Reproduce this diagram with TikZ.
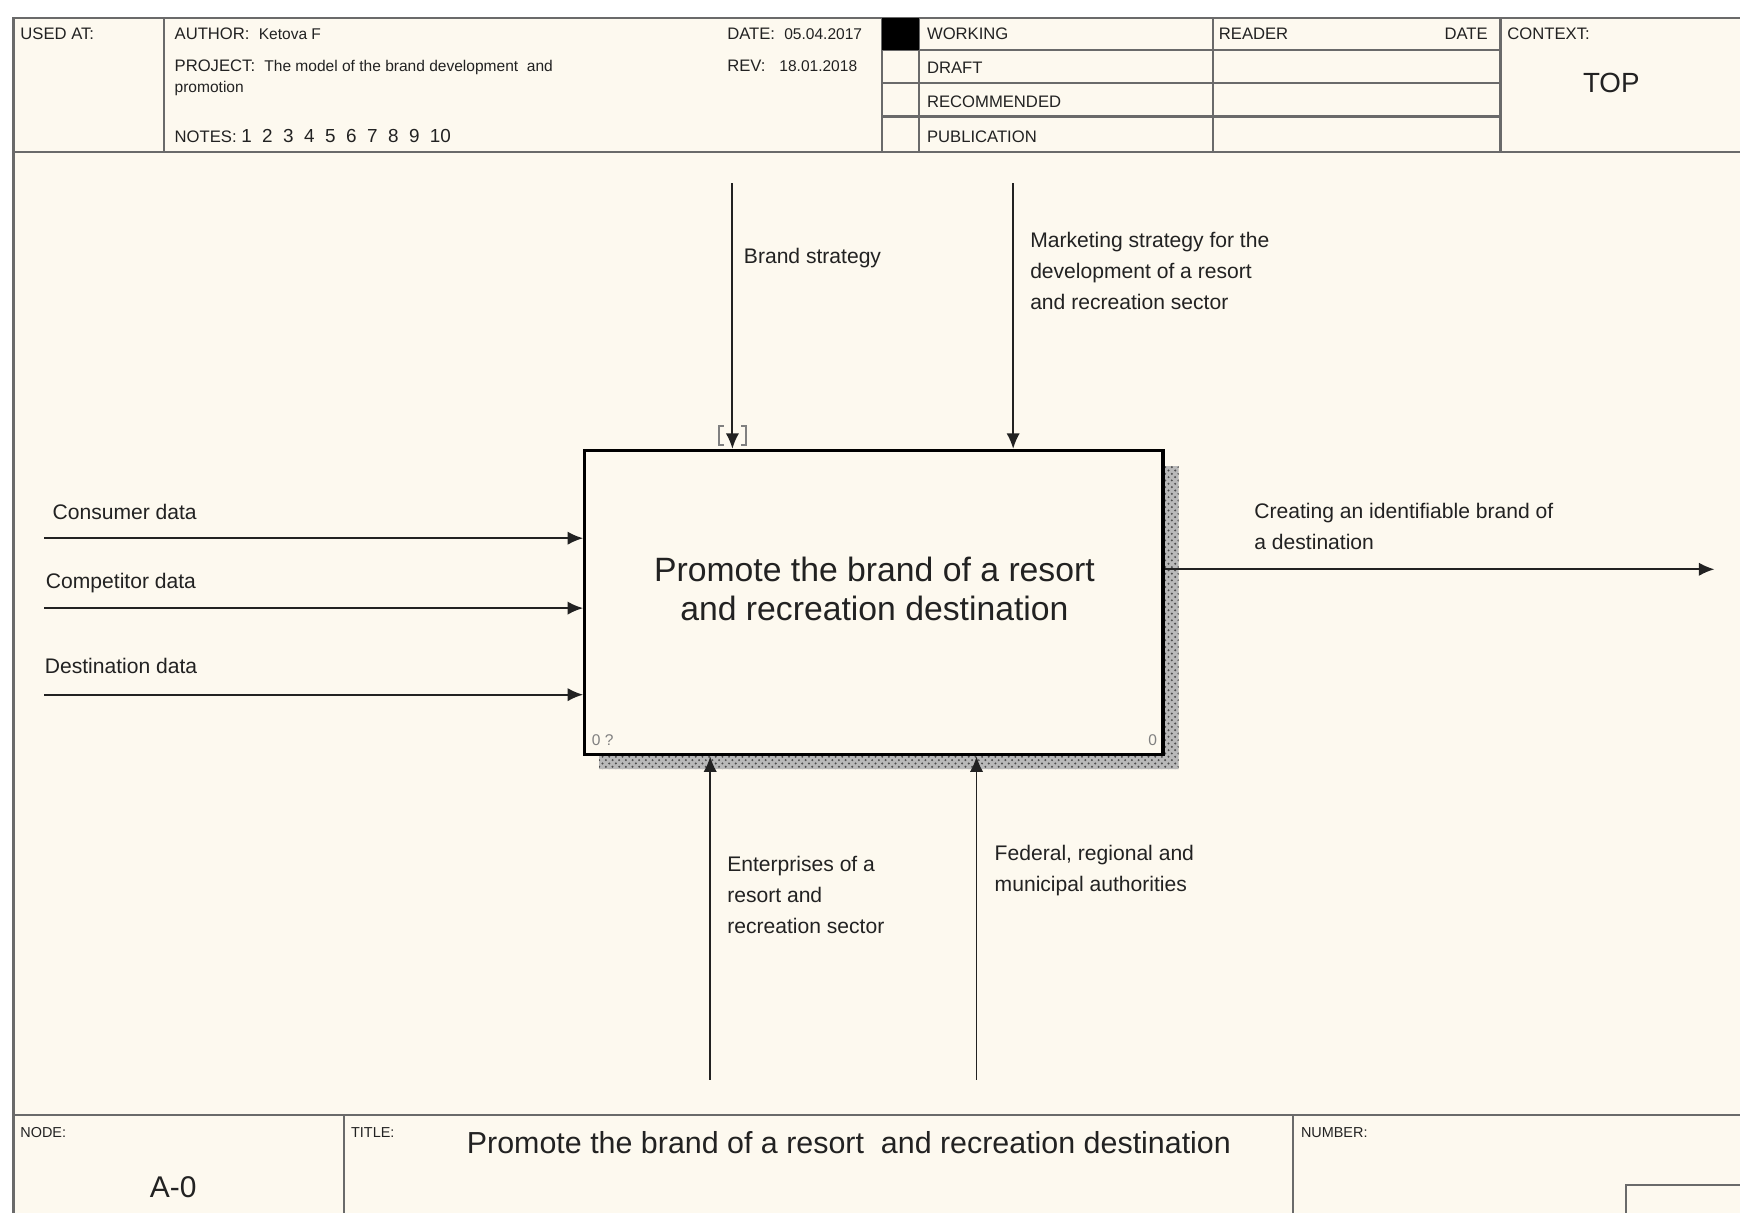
\documentclass[tikz,border=0pt]{standalone}
\usepackage{fontspec}
\setmainfont{Liberation Sans}
\usetikzlibrary{positioning, arrows.meta, patterns}
\definecolor{paper}{HTML}{FDF9EF}
\definecolor{ink}{HTML}{222222}
\definecolor{rule}{HTML}{6A6A6A}
\newcommand{\hval}[1]{{\fontsize{7}{9}\selectfont #1}}
\tikzset{
x=0.5pt, y=-0.5pt, % one unit is one pixel of the sheet, y runs down
>={Latex[length=7pt,width=6pt]}, % filled arrow heads as in IDEF0
flow/.style={->, line width=0.85pt, draw=ink}, % arrows into and out of the box
frame/.style={draw=rule, line width=1.1pt}, % lines of the sheet form
activity/.style={draw=black, line width=1.5pt, fill=paper, minimum width=260.5pt, minimum height=137pt, inner sep=0pt},
lbl/.style={anchor=north west, inner sep=0pt, align=left, text=ink, font=\fontsize{9.5}{14}\selectfont},
hdr/.style={anchor=base west, inner sep=0pt, text=ink, font=\fontsize{7.5}{9}\selectfont},
tiny/.style={anchor=north west, inner sep=0pt, text=ink, font=\fontsize{6.5}{8}\selectfont},
corner/.style={inner sep=0pt, text=gray, font=\fontsize{7}{8}\selectfont},
}
\begin{document}
\begin{tikzpicture}
    \useasboundingbox (0,0) rectangle (1568,1093);
    \fill[white] (0,0) rectangle (1568,1093);
    \fill[paper] (12,16) rectangle (1568,1093);

    % sheet form: header
    \draw[frame] (12,1093) -- (12,16) -- (1568,16);
    \draw[frame] (12,137) -- (1568,137);
    \foreach \x in {148,795,828,1093,1352}
        \draw[frame] (\x,16) -- (\x,137);
    \foreach \y in {45,75,105}
        \draw[frame] (795,\y) -- (1352,\y);
    \fill[black] (795,16) rectangle (828,45);

    \node[hdr] (usedat) at (18,36) {USED AT:};
    \node[hdr] (author) at (157,36) {AUTHOR:\ \ \hval{Ketova F}};
    \node[hdr] (project) at (157,64) {PROJECT:\ \ \hval{The model of the brand development\ \ and}};
    \node[hdr] (projectend) at (157,83) {\hval{promotion}};
    \node[hdr] (notes) at (157,128) {NOTES:\ {\fontsize{8.5}{9}\selectfont 1\ \ 2\ \ 3\ \ 4\ \ 5\ \ 6\ \ 7\ \ 8\ \ 9\ \ 10}};
    \node[hdr] (date) at (655,36) {DATE:\ \ \hval{05.04.2017}};
    \node[hdr] (rev) at (655,64) {REV:\ \ \ \hval{18.01.2018}};
    \node[hdr] (working) at (835,36) {WORKING};
    \node[hdr] (draft) at (835,66) {DRAFT};
    \node[hdr] (recommended) at (835,97) {RECOMMENDED};
    \node[hdr] (publication) at (835,128) {PUBLICATION};
    \node[hdr] (reader) at (1098,36) {READER};
    \node[hdr, anchor=base east] (readdate) at (1341,36) {DATE};
    \node[hdr] (context) at (1358,36) {CONTEXT:};
    \node[text=ink, font=\fontsize{12.5}{14}\selectfont] (top) at (1452,75) {TOP};

    % the activity with its shadow
    \fill[gray!55, postaction={pattern=crosshatch dots, pattern color=gray!60!black}]
        (1048,420) -- (1062,420) -- (1062,693) -- (540,693) -- (540,680) -- (1048,680) -- cycle;
    \node[activity] (act) at (787.5,543) {};
    \node[text=ink, align=center, font=\fontsize{15.2}{17.5}\selectfont] (actname) at (788,531)
        {Promote the brand of a resort\\and recreation destination};
    \node[corner, anchor=west] (actnum) at (533,667) {0 ?};
    \node[corner, anchor=east] (actcost) at (1043,667) {0};

    % inputs
    \coordinate (in1) at (40,485);
    \coordinate (in2) at (40,548);
    \coordinate (in3) at (40,626);
    \draw[flow] (in1) -- (in1 -| act.west);
    \draw[flow] (in2) -- (in2 -| act.west);
    \draw[flow] (in3) -- (in3 -| act.west);
    \node[lbl] (consumer) at (47,454) {Consumer data};
    \node[lbl] (competitor) at (41,516) {Competitor data};
    \node[lbl] (destination) at (40,593) {Destination data};

    % controls
    \coordinate (ctl1) at (660,165);
    \coordinate (ctl2) at (913,165);
    \draw[flow] (ctl1) -- (ctl1 |- act.north);
    \draw[flow] (ctl2) -- (ctl2 |- act.north);
    \draw[gray, line width=0.7pt] (652,384) -- (648,384) -- (648,401) -- (652,401)
        (668,384) -- (672,384) -- (672,401) -- (668,401);
    \node[lbl] (brand) at (670,223) {Brand strategy};
    \node[lbl] (marketing) at (928,209)
        {Marketing strategy for the\\development of a resort\\and recreation sector};

    % output
    \coordinate (out) at (1545,513);
    \draw[flow] (out -| act.east) -- (out);
    \node[lbl] (creating) at (1130,453) {Creating an identifiable brand of\\a destination};

    % mechanisms
    \coordinate (mec1) at (640,973);
    \coordinate (mec2) at (880,973);
    \draw[flow] (mec1) -- (mec1 |- act.south);
    \draw[flow] (mec2) -- (mec2 |- act.south);
    \node[lbl] (enterprises) at (655,771) {Enterprises of a\\resort and\\recreation sector};
    \node[lbl] (federal) at (896,761) {Federal, regional and\\municipal authorities};

    % sheet form: footer
    \draw[frame] (12,1005) -- (1568,1005);
    \foreach \x in {310,1165}
        \draw[frame] (\x,1005) -- (\x,1093);
    \draw[frame] (1465,1093) -- (1465,1068) -- (1568,1068);
    \node[tiny] (nodelbl) at (18,1016) {NODE:};
    \node[text=ink, font=\fontsize{13.5}{15}\selectfont] (nodeid) at (156,1070) {A-0};
    \node[tiny] (titlelbl) at (316,1016) {TITLE:};
    \node[text=ink, font=\fontsize{13.7}{15}\selectfont] (title) at (765,1030)
        {Promote the brand of a resort\ \ and recreation destination};
    \node[tiny] (numberlbl) at (1172,1016) {NUMBER:};
\end{tikzpicture}
\end{document}
